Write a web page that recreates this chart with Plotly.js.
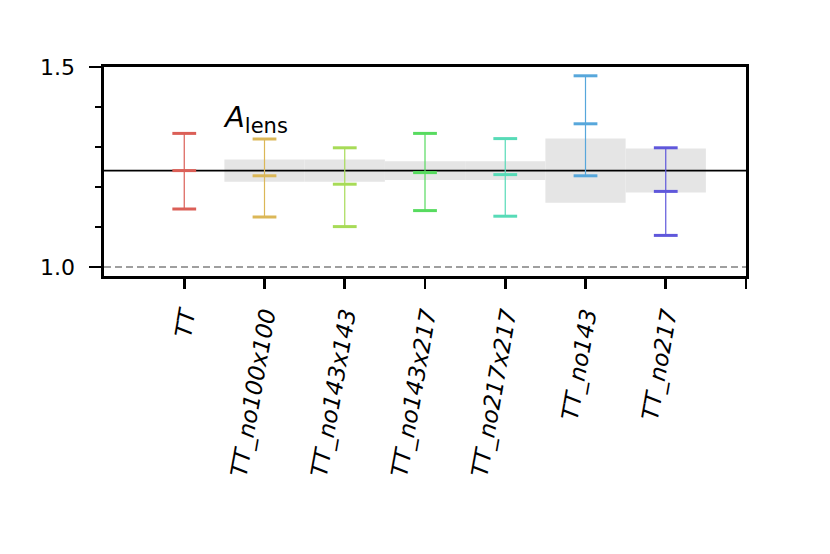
<!DOCTYPE html>
<html>
<head>
<meta charset="utf-8">
<script src="https://cdn.plot.ly/plotly-3.0.1.min.js"></script>
<style>
  html, body { margin: 0; padding: 0; background: #fff; }
  #chart { width: 830px; height: 554px; }
</style>
</head>
<body>
<div id="chart"></div>
<script>
// data
const labels = ["TT", "TT_no100x100", "TT_no143x143", "TT_no143x217", "TT_no217x217", "TT_no143", "TT_no217"];
const lows  = [1.145, 1.125, 1.101, 1.141, 1.127, 1.228, 1.079];
const mids  = [1.241, 1.228, 1.207, 1.236, 1.231, 1.358, 1.189];
const highs = [1.334, 1.320, 1.298, 1.334, 1.321, 1.478, 1.298];
// expected-shift band half widths around the TT value (none for TT itself)
const bandHalf = [null, 0.028, 0.028, 0.0235, 0.0235, 0.0805, 0.055];
const colors = ["#db5f57", "#dbb757", "#a7db57", "#57db5f", "#57dbb7", "#57a7db", "#5f57db"];

const ref = mids[0];
const idx = labels.map((_, i) => i);

let traces = [];

// grey bands
let bx = [], bbase = [], by = [];
bandHalf.forEach((h, i) => {
  if (h == null) return;
  bx.push(i);
  bbase.push(ref - h);
  by.push(2 * h);
});
traces.push({
  type: "bar", x: bx, y: by, base: bbase, width: 1,
  marker: { color: "#e5e5e5", line: { width: 0 } },
  hoverinfo: "skip", showlegend: false
});

// reference line at the TT value
traces.push({
  type: "scatter", mode: "lines",
  x: [-1, labels.length], y: [ref, ref],
  line: { color: "#000", width: 1.8 },
  hoverinfo: "skip", showlegend: false
});

// one interval per case: vertical line plus caps at low / mid / high
labels.forEach((lab, i) => {
  traces.push({
    type: "scatter", mode: "lines+markers", name: lab,
    x: [i, i, i], y: [lows[i], mids[i], highs[i]],
    line: { color: colors[i], width: 1.2 },
    marker: { symbol: "line-ew", size: 17, line: { color: colors[i], width: 3 } },
    showlegend: false
  });
});

const layout = {
  width: 830, height: 554,
  margin: { l: 104, r: 84, t: 67, b: 278 },
  paper_bgcolor: "#fff", plot_bgcolor: "#fff",
  font: { family: "DejaVu Sans", size: 22, color: "#000" },
  barmode: "overlay",
  showlegend: false,
  xaxis: {
    range: [-1, labels.length],
    tickmode: "array",
    tickvals: idx.concat([labels.length]),
    ticktext: labels.concat([" "]),
    tickangle: -80,
    tickfont: { family: "DejaVu Sans", size: 23, style: "italic" },
    ticks: "outside", ticklen: 10, tickwidth: 2.6, tickcolor: "#000",
    ticklabelstandoff: 4,
    showline: true, linecolor: "#000", linewidth: 2.6, mirror: true,
    showgrid: false, zeroline: false
  },
  yaxis: {
    range: [0.9775, 1.5],
    tickmode: "linear", tick0: 0, dtick: 0.5,
    tickformat: ".1f",
    tickfont: { family: "DejaVu Sans", size: 22 },
    ticks: "outside", ticklen: 12, tickwidth: 2.6, tickcolor: "#000",
    ticklabelstandoff: 10,
    minor: { dtick: 0.1, ticks: "outside", ticklen: 6, tickwidth: 2.4, tickcolor: "#000", showgrid: false },
    showline: true, linecolor: "#000", linewidth: 2.6, mirror: true,
    showgrid: false, zeroline: false
  },
  shapes: [{
    type: "line", xref: "paper", x0: 0, x1: 1, yref: "y", y0: 1.0, y1: 1.0,
    line: { color: "#808080", width: 1.6, dash: "7px,4px" }
  }],
  annotations: [{
    xref: "paper", yref: "paper", x: 0.183, y: 0.75,
    xanchor: "left", yanchor: "middle", showarrow: false,
    text: "<i>A</i><sub><span style='font-size:21px'>lens</span></sub>",
    font: { family: "DejaVu Sans", size: 29, color: "#000" }
  }]
};

Plotly.newPlot("chart", traces, layout, { staticPlot: true, displayModeBar: false });
</script>
</body>
</html>
